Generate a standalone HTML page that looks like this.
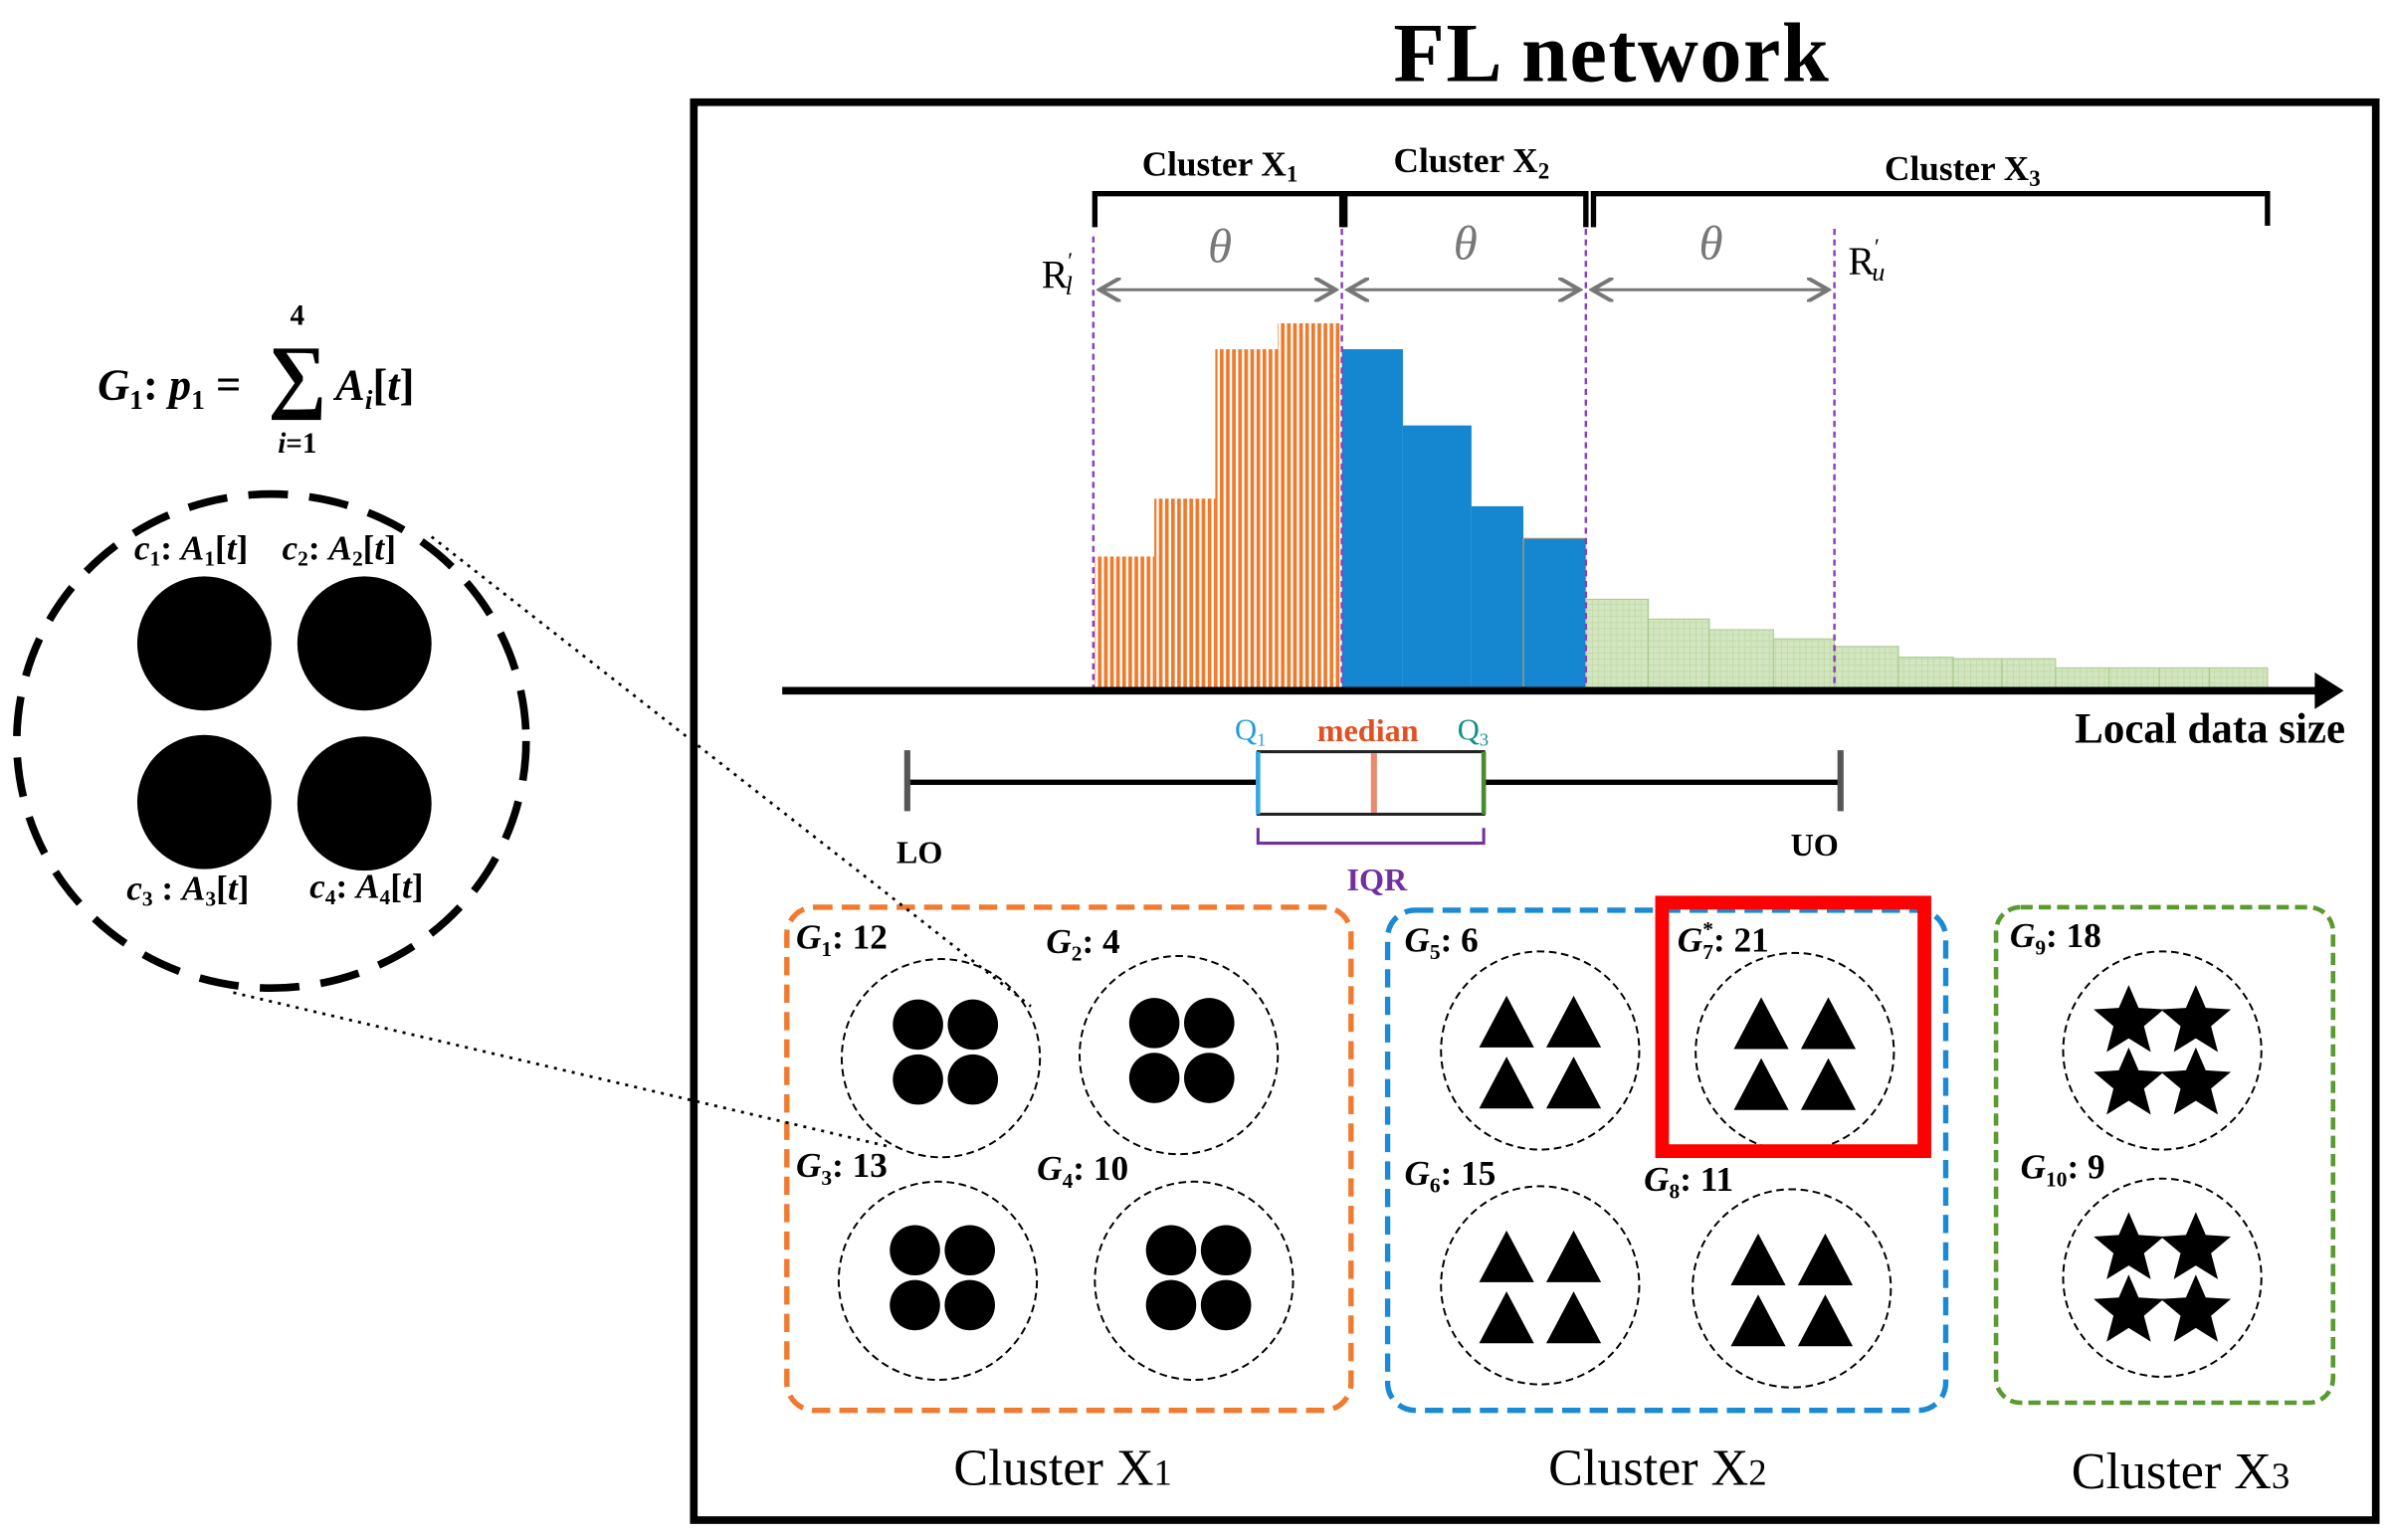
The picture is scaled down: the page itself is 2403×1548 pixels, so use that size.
<!DOCTYPE html>
<html><head><style>html,body{margin:0;padding:0;background:#fff}svg{display:block}</style></head>
<body>
<svg width="2403" height="1548" viewBox="0 0 1568 1010" xmlns="http://www.w3.org/2000/svg" font-family="Liberation Serif, serif">
<defs>
<pattern id="or" width="4" height="4" patternUnits="userSpaceOnUse"><rect width="4" height="4" fill="#fff"/><rect width="2.4" height="4" fill="#f07a2a"/></pattern>
<pattern id="gr" width="4" height="4" patternUnits="userSpaceOnUse"><rect width="4" height="4" fill="#d3e6c1"/><rect width="4" height="0.6" fill="#c2dba9"/><rect width="0.6" height="4" fill="#c2dba9"/></pattern>
<marker id="ga" markerWidth="8" markerHeight="8" refX="7" refY="4" orient="auto-start-reverse"><path d="M0,0 L7,4 L0,8" fill="none" stroke="#777" stroke-width="1.3"/></marker>
<g id="dots"><circle cx="-18" cy="-18" r="16.5"/><circle cx="18" cy="-18" r="16.5"/><circle cx="-18" cy="18" r="16.5"/><circle cx="18" cy="18" r="16.5"/></g>
<g id="tri"><path d="M-40,-2 L-22,-36 L-4,-2Z M4,-2 L22,-36 L40,-2Z M-40,38 L-22,4 L-4,38Z M4,38 L22,4 L40,38Z"/></g>
<path id="st" d="M0,-23 L6.5,-8 L23,-7 L10,4 L14.5,21 L0,12 L-14.5,21 L-10,4 L-23,-7 L-6.5,-8Z"/>
<g id="stars"><use href="#st" x="-22" y="-18"/><use href="#st" x="22" y="-18"/><use href="#st" x="-22" y="23"/><use href="#st" x="22" y="23"/></g>
</defs>

<text x="1057" y="53" font-size="55" font-weight="bold" text-anchor="middle" letter-spacing="1">FL network</text>
<rect x="455" y="67" width="1103" height="930" fill="none" stroke="#000" stroke-width="5"/>

<rect x="718" y="365" width="39" height="88" fill="url(#or)"/>
<rect x="757" y="327" width="40" height="126" fill="url(#or)"/>
<rect x="797" y="229" width="41" height="224" fill="url(#or)"/>
<rect x="838" y="212" width="42" height="241" fill="url(#or)"/>
<rect x="880" y="229" width="40" height="224" fill="#1587d0"/>
<rect x="920" y="279" width="45" height="174" fill="#1587d0"/>
<rect x="965" y="332" width="34" height="121" fill="#1587d0"/>
<rect x="999" y="353" width="41" height="100" fill="#1587d0" stroke="#e8a060" stroke-width="0.6"/>
<g fill="url(#gr)" stroke="#a8cc8a" stroke-width="0.7">
<rect x="1040" y="393" width="41" height="60"/><rect x="1081" y="406" width="40" height="47"/>
<rect x="1121" y="413" width="42" height="40"/><rect x="1163" y="419" width="40" height="34"/>
<rect x="1203" y="424" width="42" height="29"/><rect x="1245" y="431" width="36" height="22"/>
<rect x="1281" y="432" width="32" height="21"/><rect x="1313" y="432" width="35" height="21"/>
<rect x="1348" y="438" width="35" height="15"/><rect x="1383" y="438" width="33" height="15"/>
<rect x="1416" y="438" width="33" height="15"/><rect x="1449" y="438" width="38" height="15"/>
</g>

<g fill="none" stroke="#000" stroke-width="3.5">
<path d="M718,149 V127 H880 V149"/><path d="M882,149 V127 H1040 V149"/><path d="M1045,149 V127 H1487 V148"/>
</g>
<text x="800" y="115" font-size="23" font-weight="bold" text-anchor="middle">Cluster X<tspan font-size="15" dy="4">1</tspan></text>
<text x="965" y="113" font-size="23" font-weight="bold" text-anchor="middle">Cluster X<tspan font-size="15" dy="4">2</tspan></text>
<text x="1287" y="118" font-size="23" font-weight="bold" text-anchor="middle">Cluster X<tspan font-size="15" dy="4">3</tspan></text>

<g stroke="#8a3fc0" stroke-width="1.6" stroke-dasharray="4,3">
<line x1="717" y1="155" x2="717" y2="453"/><line x1="880" y1="150" x2="880" y2="453"/>
<line x1="1040" y1="150" x2="1040" y2="453"/><line x1="1203" y1="150" x2="1203" y2="453"/>
</g>
<g stroke="#777" stroke-width="2" marker-start="url(#ga)" marker-end="url(#ga)">
<line x1="721" y1="190" x2="876" y2="190"/><line x1="884" y1="190" x2="1036" y2="190"/><line x1="1044" y1="190" x2="1199" y2="190"/>
</g>
<g fill="#777" font-size="32" font-style="italic" text-anchor="middle">
<text x="800" y="172">θ</text><text x="961" y="170">θ</text><text x="1122" y="170">θ</text></g>
<text x="683" y="189" font-size="26">R<tspan font-size="15" font-style="italic" dx="-1" dy="-13">′</tspan><tspan font-size="17" font-style="italic" dx="-4" dy="17">l</tspan></text>
<text x="1212" y="180" font-size="26">R<tspan font-size="15" font-style="italic" dx="-1" dy="-13">′</tspan><tspan font-size="17" font-style="italic" dx="-4" dy="17">u</tspan></text>

<line x1="513" y1="453" x2="1522" y2="453" stroke="#000" stroke-width="5"/>
<path d="M1518,441 L1537,453 L1518,465Z"/>
<text x="1538" y="487" font-size="28" font-weight="bold" text-anchor="end">Local data size</text>

<line x1="595" y1="513" x2="1207" y2="513" stroke="#000" stroke-width="3.5"/>
<line x1="595" y1="492" x2="595" y2="532" stroke="#555" stroke-width="4"/>
<line x1="1207" y1="492" x2="1207" y2="532" stroke="#555" stroke-width="4"/>
<rect x="825" y="493" width="148" height="41" fill="#fff" stroke="#222" stroke-width="2"/>
<line x1="825" y1="493" x2="825" y2="534" stroke="#36a8e0" stroke-width="3"/>
<line x1="973" y1="493" x2="973" y2="534" stroke="#4a8a30" stroke-width="3"/>
<line x1="901" y1="494" x2="901" y2="533" stroke="#e88a70" stroke-width="4"/>
<text x="820" y="485" font-size="20" fill="#1e9ee0" text-anchor="middle">Q<tspan font-size="12" dy="4">1</tspan></text>
<text x="897" y="486" font-size="21" fill="#e05020" font-weight="bold" text-anchor="middle">median</text>
<text x="966" y="485" font-size="20" fill="#109080" text-anchor="middle">Q<tspan font-size="12" dy="4">3</tspan></text>
<path d="M825,543 V553 H973 V543" fill="none" stroke="#7030a0" stroke-width="2"/>
<text x="903" y="584" font-size="21" fill="#7030a0" font-weight="bold" text-anchor="middle">IQR</text>
<text x="603" y="566" font-size="21" font-weight="bold" text-anchor="middle">LO</text>
<text x="1190" y="561" font-size="21" font-weight="bold" text-anchor="middle">UO</text>

<rect x="516" y="595" width="370" height="330" rx="18" fill="none" stroke="#f07a30" stroke-width="3.5" stroke-dasharray="12,6"/>
<rect x="910" y="597" width="366" height="328" rx="18" fill="none" stroke="#1a8ad4" stroke-width="3.5" stroke-dasharray="12,6"/>
<rect x="1309" y="595" width="221" height="325" rx="16" fill="none" stroke="#5a9a30" stroke-width="3" stroke-dasharray="8,4"/>

<g fill="none" stroke="#000" stroke-width="1.3" stroke-dasharray="5,3">
<circle cx="617" cy="694" r="65"/><circle cx="773" cy="692" r="65"/><circle cx="615" cy="840" r="65"/><circle cx="783" cy="840" r="65"/>
<circle cx="1010" cy="689" r="65"/><circle cx="1177" cy="690" r="65"/><circle cx="1010" cy="843" r="65"/><circle cx="1175" cy="845" r="65"/>
<circle cx="1418" cy="689" r="65"/><circle cx="1418" cy="838" r="65"/>
</g>
<use href="#dots" x="620" y="690"/><use href="#dots" x="775" y="689"/><use href="#dots" x="618" y="838"/><use href="#dots" x="786" y="838"/>
<use href="#tri" x="1010" y="689"/><use href="#tri" x="1177" y="690"/><use href="#tri" x="1010" y="843"/><use href="#tri" x="1175" y="845"/>
<use href="#stars" x="1418" y="687"/><use href="#stars" x="1418" y="836"/>
<rect x="1090" y="592" width="172" height="163" fill="none" stroke="#f00" stroke-width="9"/>

<g font-size="23" font-weight="bold">
<text x="522" y="622"><tspan font-style="italic">G</tspan><tspan font-size="14" dy="5">1</tspan><tspan dy="-5">: 12</tspan></text>
<text x="686" y="625"><tspan font-style="italic">G</tspan><tspan font-size="14" dy="5">2</tspan><tspan dy="-5">: 4</tspan></text>
<text x="522" y="772"><tspan font-style="italic">G</tspan><tspan font-size="14" dy="5">3</tspan><tspan dy="-5">: 13</tspan></text>
<text x="680" y="774"><tspan font-style="italic">G</tspan><tspan font-size="14" dy="5">4</tspan><tspan dy="-5">: 10</tspan></text>
<text x="921" y="624"><tspan font-style="italic">G</tspan><tspan font-size="14" dy="5">5</tspan><tspan dy="-5">: 6</tspan></text>
<text x="1100" y="624"><tspan font-style="italic">G</tspan><tspan font-size="14" dy="5">7</tspan><tspan font-size="14" dx="-7" dy="-15">*</tspan><tspan dy="10">: 21</tspan></text>
<text x="921" y="777"><tspan font-style="italic">G</tspan><tspan font-size="14" dy="5">6</tspan><tspan dy="-5">: 15</tspan></text>
<text x="1078" y="781"><tspan font-style="italic">G</tspan><tspan font-size="14" dy="5">8</tspan><tspan dy="-5">: 11</tspan></text>
<text x="1318" y="621"><tspan font-style="italic">G</tspan><tspan font-size="14" dy="5">9</tspan><tspan dy="-5">: 18</tspan></text>
<text x="1325" y="773"><tspan font-style="italic">G</tspan><tspan font-size="14" dy="5">10</tspan><tspan dy="-5">: 9</tspan></text>
</g>
<g font-size="34" text-anchor="middle">
<text x="697" y="974">Cluster X<tspan font-size="24">1</tspan></text>
<text x="1087" y="974">Cluster X<tspan font-size="24">2</tspan></text>
<text x="1430" y="976">Cluster X<tspan font-size="24">3</tspan></text>
</g>

<g font-size="29" font-weight="bold" font-style="italic">
<text x="64" y="262">G<tspan font-size="18" font-style="normal" dy="6">1</tspan><tspan font-style="normal" dy="-6">: </tspan>p<tspan font-size="18" font-style="normal" dy="6">1</tspan><tspan font-style="normal" dy="-6"> =</tspan></text>
<text x="195" y="264" font-size="54" font-style="normal" text-anchor="middle">∑</text>
<text x="195" y="213" font-size="19" font-style="normal" text-anchor="middle">4</text>
<text x="195" y="297" font-size="19" text-anchor="middle">i<tspan font-style="normal">=1</tspan></text>
<text x="220" y="262">A<tspan font-size="18" dy="6">i</tspan><tspan font-style="normal" dy="-6">[</tspan>t<tspan font-style="normal">]</tspan></text>
</g>
<ellipse cx="178" cy="486" rx="167" ry="162" fill="none" stroke="#000" stroke-width="5" stroke-dasharray="26,14"/>
<circle cx="134" cy="422" r="44"/><circle cx="239" cy="422" r="44"/><circle cx="134" cy="526" r="44"/><circle cx="239" cy="527" r="44"/>
<g font-size="23" font-weight="bold" font-style="italic">
<text x="88" y="367">c<tspan font-size="14" font-style="normal" dy="4">1</tspan><tspan font-style="normal" dy="-4">: </tspan>A<tspan font-size="14" font-style="normal" dy="4">1</tspan><tspan font-style="normal" dy="-4">[</tspan>t<tspan font-style="normal">]</tspan></text>
<text x="185" y="367">c<tspan font-size="14" font-style="normal" dy="4">2</tspan><tspan font-style="normal" dy="-4">: </tspan>A<tspan font-size="14" font-style="normal" dy="4">2</tspan><tspan font-style="normal" dy="-4">[</tspan>t<tspan font-style="normal">]</tspan></text>
<text x="83" y="590">c<tspan font-size="14" font-style="normal" dy="4">3</tspan><tspan font-style="normal" dy="-4">  : </tspan>A<tspan font-size="14" font-style="normal" dy="4">3</tspan><tspan font-style="normal" dy="-4">[</tspan>t<tspan font-style="normal">]</tspan></text>
<text x="203" y="589">c<tspan font-size="14" font-style="normal" dy="4">4</tspan><tspan font-style="normal" dy="-4">: </tspan>A<tspan font-size="14" font-style="normal" dy="4">4</tspan><tspan font-style="normal" dy="-4">[</tspan>t<tspan font-style="normal">]</tspan></text>
</g>
<g stroke="#000" stroke-width="1.8" stroke-dasharray="2,4">
<line x1="283" y1="352" x2="676" y2="660"/><line x1="153" y1="651" x2="583" y2="752"/>
</g>
</svg>
</body></html>
